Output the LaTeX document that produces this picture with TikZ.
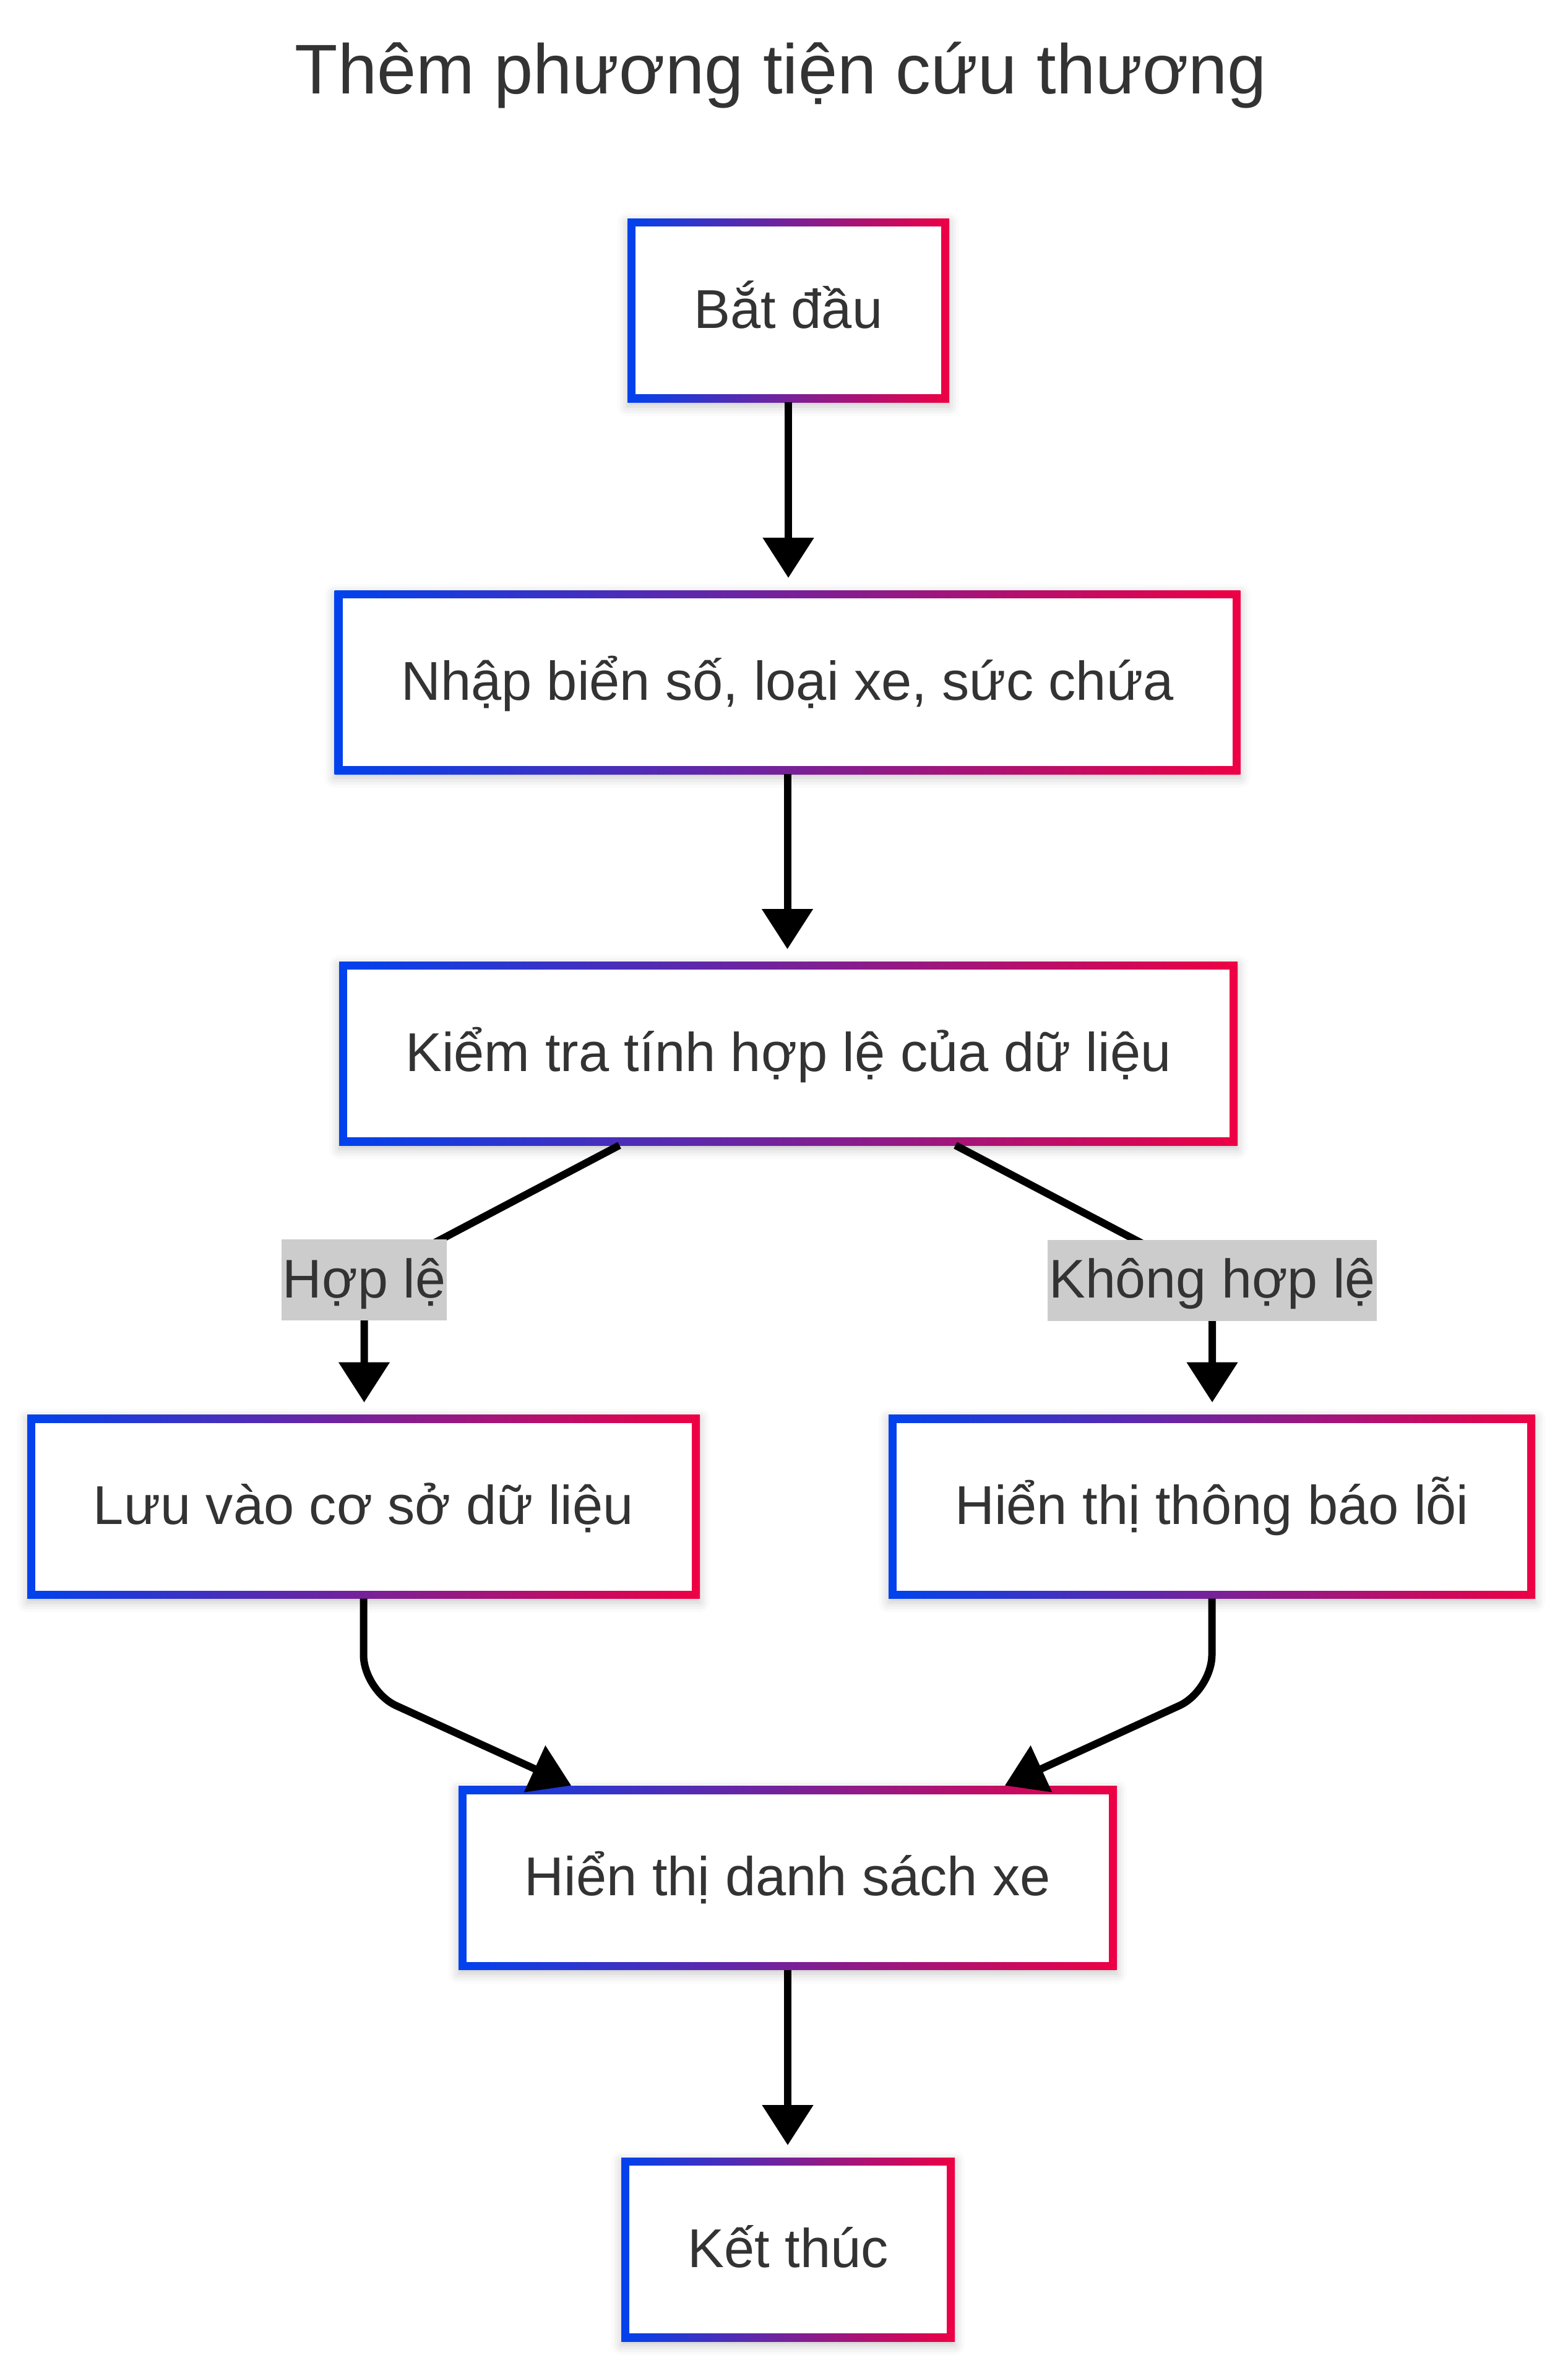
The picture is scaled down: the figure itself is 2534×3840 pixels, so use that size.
\documentclass[tikz,border=0pt]{standalone}
\usepackage{fontspec}
\setmainfont{Liberation Sans}
\usetikzlibrary{arrows.meta,calc,shadows.blur}
\definecolor{gblue}{RGB}{0,66,238}
\definecolor{gred}{RGB}{238,0,68}
\definecolor{txt}{RGB}{51,51,51}
\definecolor{lblbg}{RGB}{204,204,204}
\pgfdeclarelayer{front}
\pgfsetlayers{main,front}
\tikzset{
  box/.style={fill=white, inner sep=0pt, outer sep=0pt, minimum height=74.25pt,
    text height=23.5pt, text depth=9.25pt, text=txt,
    font=\fontsize{22.1pt}{26pt}\selectfont,
    blur shadow={shadow xshift=0pt, shadow yshift=-1.5pt, shadow blur radius=4pt, shadow opacity=22},
    path picture={
      \shade[left color=gblue, right color=gred]
        (path picture bounding box.south west) rectangle (path picture bounding box.north east);
      \fill[white]
        ([shift={(3.25pt,3.25pt)}]path picture bounding box.south west) rectangle
        ([shift={(-3.25pt,-3.25pt)}]path picture bounding box.north east);
    }},
  elabel/.style={fill=lblbg, inner xsep=0.5pt, inner ysep=0pt, outer sep=0pt,
    text height=23.5pt, text depth=9.25pt, text=txt,
    font=\fontsize{22pt}{26pt}\selectfont},
  edge/.style={draw=black, line width=3pt, -{Triangle[length=16.25pt, width=20pt]}},
  titlestyle/.style={text=txt, inner sep=0pt, font=\fontsize{28.4pt}{34pt}\selectfont}
}
\begin{document}
\begin{tikzpicture}[x=0.25pt,y=-0.25pt]
\useasboundingbox (0,0) rectangle (2534,3840);

\node[titlestyle, anchor=base] (title) at (1262,152) {Thêm phương tiện cứu thương};

\node[box, minimum width=130pt]    (start) at (1274,502)    {Bắt đầu};
\node[box, minimum width=366pt]    (input) at (1272.5,1102.5) {Nhập biển số, loại xe, sức chứa};
\node[box, minimum width=363pt]    (check) at (1274,1702.5) {Kiểm tra tính hợp lệ của dữ liệu};
\node[box, minimum width=271.75pt] (save)  at (587.5,2435) {Lưu vào cơ sở dữ liệu};
\node[box, minimum width=261.25pt] (err)   at (1958.5,2435) {Hiển thị thông báo lỗi};
\node[box, minimum width=266pt]    (list)  at (1273,3035)   {Hiển thị danh sách xe};
\node[box, minimum width=134.75pt] (finish) at (1273.5,3635.5) {Kết thúc};

\begin{pgfonlayer}{front}
\node[elabel] (lblA) at (588.5,2068.5) {Hợp lệ};
\node[elabel] (lblB) at (1959,2069) {Không hợp lệ};
\end{pgfonlayer}

\draw[edge, shorten >=5pt] (start.south) -- (start.south |- input.north);
\draw[edge, shorten >=5pt] (input.south) -- (input.south |- check.north);
\draw[edge, shorten >=5pt] ($(check.south)+(-273,0)$) -- (lblA.center) -- (lblA.center |- save.north);
\draw[edge, shorten >=5pt] ($(check.south)+(270,0)$) -- (lblB.center) -- (lblB.center |- err.north);
\draw[edge, rounded corners=14.5pt, shorten >=0.5pt] (save.south) -- ($(save.south)+(0,149)$) -- ($(list.north)+(-348,0)$);
\draw[edge, rounded corners=14.5pt, shorten >=0.5pt] (err.south) -- ($(err.south)+(0,149)$) -- ($(list.north)+(349,0)$);
\draw[edge, shorten >=5pt] (list.south) -- (list.south |- finish.north);
\end{tikzpicture}
\end{document}
